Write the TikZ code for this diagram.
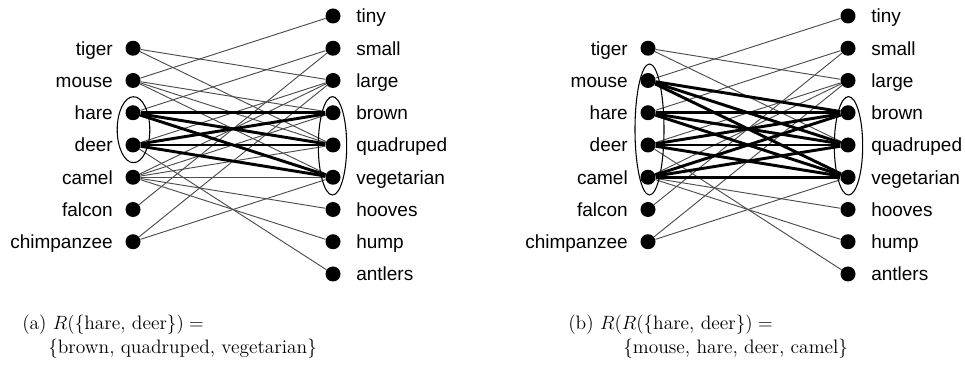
\documentclass[tikz,border=0pt]{standalone}
\usepackage{fontspec}
\newfontfamily\lblfont{Liberation Sans}
\begin{document}
\begin{tikzpicture}[x=0.75pt,y=-0.75pt,
  dot/.style={circle,fill=black,inner sep=0pt,minimum size=11.25pt},
  lbl/.style={font=\lblfont\fontsize{14.25}{17}\selectfont,inner sep=0pt},
  thinedge/.style={draw=black!70,line width=0.7pt},
  thickedge/.style={draw=black,line width=2.2pt},
  grp/.style={draw=black,line width=0.8pt},
  captxt/.style={font=\fontsize{14.6}{18}\selectfont,inner sep=0pt,anchor=west}]
\useasboundingbox (0,0) rectangle (965,377);

\foreach \g/\dx in {a/0,b/515}{
  \foreach \n/\i in {tiger/1,mouse/2,hare/3,deer/4,camel/5,falcon/6,chimpanzee/7}{
    \node[dot] (\g-\n) at (133+\dx,16+32.25*\i) {};
    \node[lbl,anchor=base east] (\g-\n-t) at (113+\dx,23+32.25*\i) {\n};
  }
  \foreach \n/\i in {tiny/0,small/1,large/2,brown/3,quadruped/4,vegetarian/5,hooves/6,hump/7,antlers/8}{
    \node[dot] (\g-\n) at (333+\dx,16+32.25*\i) {};
    \node[lbl,anchor=base west] (\g-\n-t) at (356+\dx,23+32.25*\i) {\n};
  }
  \foreach \s/\t in {tiger/large,tiger/quadruped,
      mouse/tiny,mouse/brown,mouse/quadruped,mouse/vegetarian,
      hare/small,hare/brown,hare/quadruped,hare/vegetarian,
      deer/large,deer/brown,deer/quadruped,deer/vegetarian,deer/antlers,
      camel/large,camel/brown,camel/quadruped,camel/vegetarian,camel/hooves,camel/hump,
      falcon/small,
      chimpanzee/large,chimpanzee/vegetarian}{
    \draw[thinedge] (\g-\s) -- (\g-\t);
  }
}

% thick edges (a)
\foreach \s in {hare,deer}{
  \foreach \t in {brown,quadruped,vegetarian}{
    \draw[thickedge] (a-\s) -- (a-\t);
  }
}
% thick edges (b)
\foreach \s in {mouse,hare,deer,camel}{
  \foreach \t in {brown,quadruped,vegetarian}{
    \draw[thickedge] (b-\s) -- (b-\t);
  }
}

% group ellipses
\draw[grp] (133.5,129.7) ellipse [x radius=16.3, y radius=33];
\draw[grp] (332.5,145.8) ellipse [x radius=14.2, y radius=49.2];
\draw[grp] (649.5,129.5) ellipse [x radius=14.5, y radius=65.5];
\draw[grp] (848.5,145.8) ellipse [x radius=14.2, y radius=49.2];

% captions
\node[captxt] (capa1) at (22,325) {(a) $R(\{\mbox{hare, deer}\}) =$};
\node[captxt] (capa2) at (48,349) {$\{$brown, quadruped, vegetarian$\}$};
\node[captxt] (capb1) at (568,325) {(b) $R(R(\{\mbox{hare, deer}\}) =$};
\node[captxt] (capb2) at (623,349) {$\{$mouse, hare, deer, camel$\}$};
\end{tikzpicture}
\end{document}
